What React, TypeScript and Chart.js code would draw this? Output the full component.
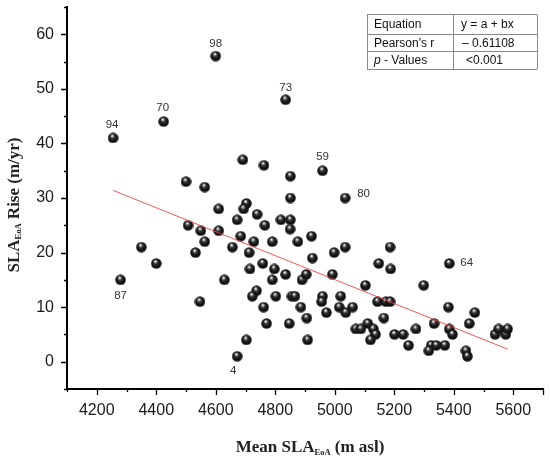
import React, { useEffect, useRef } from 'react';
import { Chart, registerables } from 'chart.js';

Chart.register(...registerables);

// Mean SLA_EoA (m asl)
const meanSla = [
  4255, 4425, 4600, 4835, 4959, 5035, 4280, 4672, 5385,
  4500, 4563, 4691, 4762, 4851, 4851, 4610, 4703, 4694, 4739, 4672,
  4819, 4851, 4507, 4765, 4550, 4610, 4850, 4563, 4684, 4728,
  4790, 4876, 4922, 4532, 4656, 4712, 4350, 4400, 4547, 4629,
  4715, 4758, 4797, 4835, 4790, 4890, 4904, 4737, 4723, 4802,
  4856, 4866, 4761, 4886, 4906, 4771, 4847, 4703, 4909, 4998,
  5035, 4925, 5186, 5148, 5188, 4992, 5103, 4959, 4956, 5020,
  4972, 5015, 5060, 5037, 5144, 5172, 5186, 5165, 5071, 5088,
  5111, 5130, 5137, 5120, 5201, 5230, 5248, 5273, 5299, 5382,
  5471, 5334, 5452, 5385, 5396, 5324, 5341, 5370, 5316, 5441,
  5446, 5539, 5551, 5575, 5581,
];

// SLA_EoA Rise (m/yr)
const riseRate = [
  41, 44, 56, 48, 35, 30, 15, 1, 18,
  33, 32, 37, 36, 34, 30, 28, 29, 28, 27, 26,
  26, 26, 25, 25, 24, 24, 24.3, 22, 23, 22,
  22, 22, 23, 20, 21, 20, 21, 18, 11, 15,
  17, 18, 17, 16, 15, 15, 16, 13, 12, 12,
  12, 12, 10, 10, 8, 7, 7, 4, 4, 20,
  21, 19, 21, 18, 17, 16, 14, 12, 11, 12,
  9, 10, 10, 9, 11, 11, 11, 8, 6, 6,
  7, 6, 5, 4, 5, 5, 3, 6, 14, 10,
  9, 7, 7, 6, 5, 3, 3, 3, 2, 2,
  1, 5, 6, 5, 6,
];

// Glacier ids shown next to some points (the rest are unlabeled)
const pointIds = [
  '94', '70', '98', '73', '59', '80', '87', '4', '64',
];

// Linear fit y = a + bx, end points
const fitX = [4255, 5581];
const fitY = [31.4, 2.3];

const xTickLabels = [4200, 4400, 4600, 4800, 5000, 5200, 5400, 5600];
const yTickLabels = [0, 10, 20, 30, 40, 50, 60];

const tableLeft = ['Equation', "Pearson's r", 'p - Values'];
const tableRight = ['y = a + bx', '\u2013 0.61108', '<0.001'];

function makeSphere(d: number): HTMLCanvasElement {
  const c = document.createElement('canvas');
  c.width = d;
  c.height = d;
  const g = c.getContext('2d')!;
  const r = d / 2;
  const grad = g.createRadialGradient(r * 0.8, r * 0.55, 0, r, r, r);
  grad.addColorStop(0, '#ffffff');
  grad.addColorStop(0.14, '#d8d8d8');
  grad.addColorStop(0.36, '#3a3a3a');
  grad.addColorStop(0.75, '#0b0b0b');
  grad.addColorStop(0.92, '#1c1c1c');
  grad.addColorStop(1, '#444444');
  g.fillStyle = grad;
  g.beginPath();
  g.arc(r, r, r - 0.2, 0, Math.PI * 2);
  g.fill();
  return c;
}

type Part = { t: string; size: number; dy?: number; italic?: boolean };

function drawRich(ctx: CanvasRenderingContext2D, parts: Part[], family: string, bold: boolean) {
  let total = 0;
  const widths: number[] = [];
  for (const p of parts) {
    ctx.font = `${p.italic ? 'italic ' : ''}${bold ? 'bold ' : ''}${p.size}px ${family}`;
    const w = ctx.measureText(p.t).width;
    widths.push(w);
    total += w;
  }
  let x = -total / 2;
  parts.forEach((p, i) => {
    ctx.font = `${p.italic ? 'italic ' : ''}${bold ? 'bold ' : ''}${p.size}px ${family}`;
    ctx.fillText(p.t, x, p.dy || 0);
    x += widths[i];
  });
}

const serif = '"Liberation Serif", "Times New Roman", serif';
const sans = '"Liberation Sans", Arial, sans-serif';

const labelPlacement: Record<string, [number, number, CanvasTextAlign]> = {
  '94': [-1, -13.5, 'center'],
  '70': [-1, -13.5, 'center'],
  '98': [0, -12.5, 'center'],
  '73': [0, -11.5, 'center'],
  '59': [0, -14, 'center'],
  '80': [12, -4, 'left'],
  '87': [0, 15.5, 'center'],
  '4': [-4, 14.5, 'center'],
  '64': [11, -1, 'left'],
};

const decorPlugin = {
  id: 'decor',
  afterDraw(chart: any) {
    const ctx: CanvasRenderingContext2D = chart.ctx;
    const xs = chart.scales.x;
    const ys = chart.scales.y;
    const area = chart.chartArea;
    ctx.save();
    // tick marks
    ctx.strokeStyle = '#000';
    ctx.lineWidth = 1.3;
    ctx.beginPath();
    for (let v = xs.min; v <= xs.max + 0.1; v += 100) {
      const px = Math.round(xs.getPixelForValue(v)) + 0.5;
      const len = v % 200 === 0 || v === xs.max ? 6 : 3;
      ctx.moveTo(px, area.bottom);
      ctx.lineTo(px, area.bottom + len);
    }
    for (let v = ys.min; v <= ys.max + 0.01; v += 5) {
      const py = Math.round(ys.getPixelForValue(v)) + 0.5;
      const len = v % 10 === 0 ? 6 : 3;
      ctx.moveTo(area.left, py);
      ctx.lineTo(area.left - len, py);
    }
    ctx.stroke();

    // point labels
    const meta = chart.getDatasetMeta(1);
    ctx.fillStyle = '#333';
    ctx.font = `11.5px ${sans}`;
    ctx.textBaseline = 'middle';
    pointIds.forEach((id, i) => {
      if (!id) return;
      const el = meta.data[i];
      if (!el) return;
      const pl = labelPlacement[id] || [0, -12, 'center'];
      ctx.textAlign = pl[2];
      ctx.fillText(id, el.x + pl[0], el.y + pl[1]);
    });

    // axis titles
    ctx.fillStyle = '#222';
    ctx.textAlign = 'left';
    ctx.textBaseline = 'alphabetic';
    ctx.save();
    ctx.translate((area.left + area.right) / 2 + 5, 452);
    drawRich(ctx, [
      { t: 'Mean SLA', size: 17 },
      { t: 'EoA', size: 8.5, dy: 2.5 },
      { t: ' (m asl)', size: 17 },
    ], serif, true);
    ctx.restore();
    ctx.save();
    ctx.translate(18.5, 205);
    ctx.rotate(-Math.PI / 2);
    drawRich(ctx, [
      { t: 'SLA', size: 17 },
      { t: 'EoA', size: 8.5, dy: 2.5 },
      { t: ' Rise (m/yr)', size: 17 },
    ], serif, true);
    ctx.restore();

    // stats table
    const colX = [367, 453, 537];
    const rowY = [13.5, 33.5, 51, 68.5];
    ctx.strokeStyle = '#8a8a8a';
    ctx.lineWidth = 1;
    ctx.beginPath();
    rowY.forEach((y) => {
      ctx.moveTo(colX[0], Math.round(y) + 0.5);
      ctx.lineTo(colX[2], Math.round(y) + 0.5);
    });
    colX.forEach((x) => {
      ctx.moveTo(x + 0.5, Math.round(rowY[0]) + 0.5);
      ctx.lineTo(x + 0.5, Math.round(rowY[3]) + 0.5);
    });
    ctx.stroke();
    ctx.fillStyle = '#111';
    ctx.textBaseline = 'middle';
    ctx.textAlign = 'left';
    for (let r = 0; r < 3; r++) {
      const cy = (rowY[r] + rowY[r + 1]) / 2 + 1;
      const left = tableLeft[r];
      if (left.startsWith('p ')) {
        ctx.font = `italic 12px ${sans}`;
        ctx.fillText('p', 374, cy);
        const w = ctx.measureText('p').width;
        ctx.font = `12px ${sans}`;
        ctx.fillText(left.slice(1), 374 + w, cy);
      } else {
        ctx.font = `12px ${sans}`;
        ctx.fillText(left, 374, cy);
      }
      ctx.font = `12px ${sans}`;
      const rx = r === 0 ? 461 : r === 1 ? 462 : 466;
      ctx.fillText(tableRight[r], rx, cy);
    }
    ctx.restore();
  },
};

export default function App() {
  const ref = useRef<HTMLCanvasElement | null>(null);
  useEffect(() => {
    if (!ref.current) return;
    const sphere = makeSphere(11);
    const chart = new Chart(ref.current, {
      type: 'scatter',
      data: {
        datasets: [
          {
            type: 'line',
            data: fitX.map((x, i) => ({ x, y: fitY[i] })),
            borderColor: 'rgba(235,70,70,0.9)',
            borderWidth: 1,
            pointRadius: 0,
            fill: false,
          } as any,
          {
            data: meanSla.map((x, i) => ({ x, y: riseRate[i] })),
            pointStyle: sphere as any,
            pointRadius: 5.5,
          },
        ],
      },
      options: {
        animation: false,
        responsive: false,
        events: [],
        layout: { padding: { left: 0, right: 7, top: 7, bottom: 0 } },
        plugins: {
          legend: { display: false },
          tooltip: { enabled: false },
          title: { display: false },
        },
        scales: {
          x: {
            type: 'linear',
            min: 4100,
            max: 5700,
            grid: { display: false },
            border: { display: true, color: '#000', width: 2 },
            ticks: {
              stepSize: 100,
              autoSkip: false,
              maxRotation: 0,
              padding: 4,
              color: '#1a1a1a',
              font: { family: sans, size: 16 },
              callback: (v: any) => (xTickLabels.includes(Number(v)) ? String(v) : ''),
            },
            afterFit: (s: any) => {
              s.height = 72;
              s.paddingLeft = 0;
              s.paddingRight = 0;
            },
          },
          y: {
            type: 'linear',
            min: -5,
            max: 65,
            grid: { display: false },
            border: { display: true, color: '#000', width: 2 },
            ticks: {
              stepSize: 5,
              autoSkip: false,
              padding: 5,
              color: '#1a1a1a',
              font: { family: sans, size: 16 },
              callback: (v: any) => (yTickLabels.includes(Number(v)) ? String(v) : ''),
            },
            afterFit: (s: any) => {
              s.width = 67;
              s.paddingTop = 0;
              s.paddingBottom = 0;
            },
          },
        },
      },
      plugins: [decorPlugin],
    });
    return () => chart.destroy();
  }, []);
  return (
    <div style={{ position: 'absolute', left: 0, top: 0, width: 550, height: 461, background: '#fff' }}>
      <canvas ref={ref} width={550} height={461} style={{ width: 550, height: 461, display: 'block' }} />
    </div>
  );
}
